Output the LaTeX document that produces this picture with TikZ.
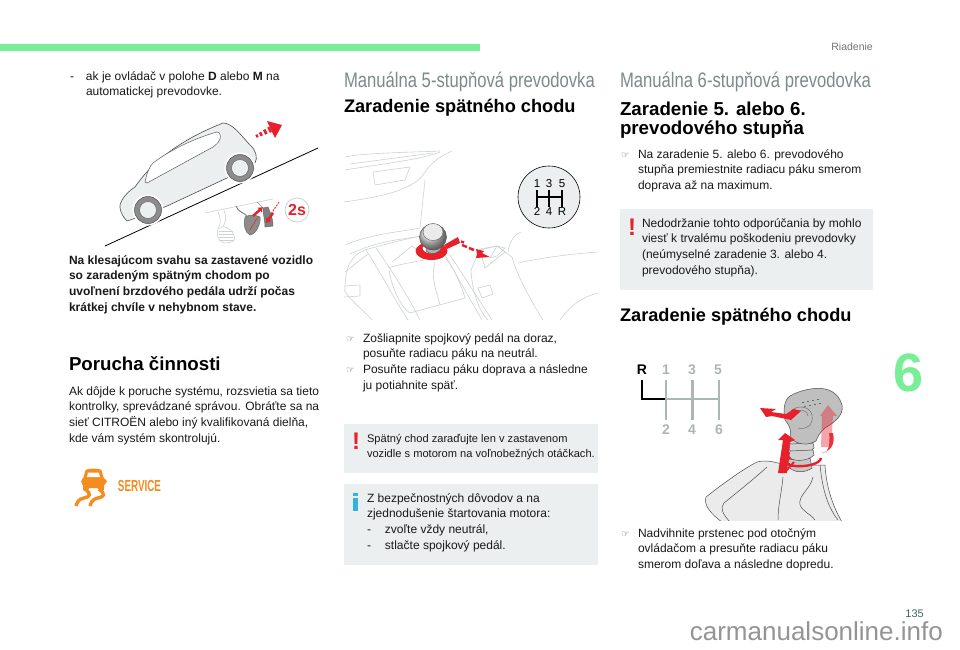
\documentclass[tikz,border=0pt]{standalone}
\usepackage{fontspec}
\usetikzlibrary{calc,arrows.meta}
\setmainfont{Liberation Sans}
\newfontfamily\symfont{DejaVu Sans}
\definecolor{band}{RGB}{120,238,150}
\definecolor{boxg}{RGB}{236,239,239}
\definecolor{headg}{RGB}{125,138,138}
\definecolor{redx}{RGB}{232,32,44}
\definecolor{linex}{RGB}{205,210,210}
\definecolor{bluei}{RGB}{50,180,225}
\definecolor{orangex}{RGB}{245,140,30}
\definecolor{gearg}{RGB}{172,182,178}
\tikzset{
  x=1pt,y=-1pt,
  body/.style={inner sep=0pt,outer sep=0pt,anchor=north west,align=left,font=\fontsize{12}{15.85}\selectfont,text=black!90},
  sub/.style={inner sep=0pt,outer sep=0pt,anchor=north west,align=left,font=\fontsize{18.7}{19}\selectfont\bfseries,text=black},
  subb/.style={sub,font=\fontsize{18.2}{19}\selectfont\bfseries},
  chap/.style={inner sep=0pt,outer sep=0pt,anchor=base west,text=headg,font=\fontsize{21}{22}\selectfont},
  warnbang/.style={inner sep=0pt,font=\fontsize{24}{24}\selectfont\bfseries,text=redx},
  sketch/.style={draw=linex,line width=.6pt},
  pic/.style={draw=black!70,line width=.5pt,fill=boxg},
  gearline/.style={gearg,line width=2.7pt},
  gearnum/.style={inner sep=0pt,font=\fontsize{14}{14}\selectfont\bfseries,text=gearg},
}
\newcommand{\fl}{\rule{0pt}{10pt}}
\newcommand{\hl}{\rule{0pt}{14pt}}
\newcommand{\handm}[1]{\makebox[#1pt][l]{\symfont\fontsize{9.5}{9.5}\selectfont\textcolor{black!65}{☞}}}
\begin{document}
\begin{tikzpicture}
\useasboundingbox (0,0) rectangle (960,649);
\fill[white] (0,0) rectangle (960,649);
% top band
\fill[band] (0,44) rectangle (480,50.5);
\node[inner sep=0pt,anchor=base east,font=\fontsize{10.5}{12}\selectfont,text=black!55] (runhead) at (873,50) {Riadenie};
\node[inner sep=0pt,anchor=base east,font=\fontsize{11}{12}\selectfont,text={rgb,255:red,70;green,100;blue,100}] (pageno) at (924,617) {135};
\node[inner sep=0pt,font=\fontsize{54}{54}\selectfont\bfseries,text=band] (chapno) at (909,372.5) {6};
% column 1
\node[body] (t1) at (70,70) {\fl\makebox[16pt][l]{-}ak je ovládač v polohe \textbf{D} alebo \textbf{M} na\\\hspace{16pt}automatickej prevodovke.};
% car scene
\draw[black,line width=.8pt] (105,246) -- (318,148);
\draw[pic,line width=.6pt] (127,221) .. controls (120,214) and (118,205) .. (122,200)
  .. controls (125,195) and (130,190) .. (135,187)
  .. controls (150,165) and (175,142) .. (223,123) .. controls (232,123) and (240,134) .. (250,145)
  .. controls (256,150) and (258,158) .. (255,163) -- (240,170) -- (227,178) -- (167,206) -- (148,214) -- cycle;
\draw[draw=black!65,fill=white,line width=.5pt] (145,182) .. controls (147,172) and (150,166) .. (153,163) .. controls (170,150) and (195,138) .. (217,132) .. controls (220,132) and (221,136) .. (220,139) .. controls (219,142) and (216,145) .. (213,147) -- (147,183) -- cycle;
\foreach \n/\cx/\cy in {wheela/148/210,wheelb/240/168}{
  \fill[white] (\cx,\cy) circle (15.5);
  \draw[black!70,fill=black!45,line width=.5pt] (\cx,\cy) circle (13.5);
  \draw[black!60,fill=boxg,line width=.5pt] (\cx,\cy) circle (8.5);
}
% red arrow car
\foreach \a/\b/\w in {0/.08/3,.15/.24/4,.32/.42/5,.5/.58/6}{
  \draw[redx,line width=\w pt] ($(256,136.5)!\a!(281,124)$) -- ($(256,136.5)!\b!(281,124)$);
}
\fill[redx] (267,121) -- (282,125) -- (275,138) -- (271,130) -- cycle;
% pedals
\draw[sketch] (205,213) -- (273,199);
\draw[draw=linex,line width=.6pt] (218,212) .. controls (221,218) and (221,224) .. (218,229);
\draw[draw=linex,line width=.6pt] (224,211) .. controls (227,218) and (226,222) .. (222,228);
\draw[draw=linex,fill=white,line width=.6pt] (218,229) .. controls (216,235) and (218,241) .. (224,243) .. controls (229,243) and (234,242) .. (235,239) .. controls (234,233) and (229,226) .. (222,227) -- cycle;
\foreach \yy in {231,234,237,240}{\draw[linex,line width=.5pt] (219,\yy) -- (233,\yy);}
\draw[black!55,line width=.8pt] (236,206) .. controls (238,212) and (243,212) .. (247,216);
\draw[draw=black!60,fill=black!45,line width=.5pt] (245,217) .. controls (250,214) and (256,215) .. (260,217) .. controls (261,224) and (256,234) .. (250,235) .. controls (245,233) and (243,224) .. (245,217) -- cycle;
\draw[black!45,line width=.7pt] (257,202) -- (262,207);
\draw[draw=black!60,fill=black!50,line width=.5pt] (263,208) -- (268,207) .. controls (270,212) and (273,218) .. (273,226) -- (265,227) .. controls (265,220) and (263,214) .. (263,208) -- cycle;
\draw[redx,line width=.9pt,dash pattern=on 1.5pt off 1pt] (250,230) -- (258,217);
\draw[redx,line width=2.4pt,-{Latex[length=4.5pt,width=7pt]}] (253,216) -- (263,207);
\draw[redx,line width=.9pt,dash pattern=on 2pt off 1pt] (279,202) -- (271,214);
\draw[redx,line width=2.4pt,-{Latex[length=4.5pt,width=7pt]}] (273,213) -- (266,223);
\draw[draw=linex,fill=white,line width=.8pt] (297,210) circle (12);
\node[inner sep=0pt,font=\fontsize{16}{16}\selectfont\bfseries,text=redx] (twos) at (297,210) {2s};
\node[body,font=\fontsize{12}{15.8}\selectfont\bfseries] (t2) at (69,254) {\fl Na klesajúcom svahu sa zastavené vozidlo\\so zaradeným spätným chodom po\\uvoľnení brzdového pedála udrží počas\\krátkej chvíle v nehybnom stave.};
\node[sub] (h1) at (69,356) {\hl Porucha činnosti};
\node[body] (t3) at (69,385) {\fl Ak dôjde k poruche systému, rozsvietia sa tieto\\kontrolky, sprevádzané správou. Obráťte sa na\\sieť CITROËN alebo iný kvalifikovaná dielňa,\\kde vám systém skontrolujú.};
% service icon
\fill[orangex,rounded corners=1.5pt] (83,479) -- (85,472) .. controls (86,468) and (101,468) .. (102,472) -- (104,479) -- (107,480) -- (107,483) -- (104,484) -- (104,491) -- (99,491) -- (99,488) -- (88,488) -- (88,491) -- (83,491) -- (83,484) -- (81,483) -- (81,480) -- cycle;
\fill[white] (87,477) -- (88,472.5) -- (99,472.5) -- (100,477) -- cycle;
\foreach \dx in {0,14}{
  \draw[orangex,line width=3.4pt,line cap=butt] (85+\dx,489) .. controls (92+\dx,494) and (90+\dx,497) .. (84+\dx,498) .. controls (78+\dx,499) and (77+\dx,503) .. (76+\dx,506);
}
\node[inner sep=0pt,font=\fontsize{16}{16}\selectfont\bfseries,text=orangex,xscale=.615] (service) at (139.5,486) {SERVICE};
% column 2
\node[chap] (c2h) at (344,87) {\scalebox{.793}[1]{Manuálna 5-stupňová prevodovka}};
\node[subb] (h2) at (344,98) {\hl Zaradenie spätného chodu};
% console sketch
\begin{scope}
\clip (344,150) rectangle (598,320);
\draw[sketch] (345,157) .. controls (360,153) and (420,152) .. (440,151);
\draw[sketch] (350,164) -- (433,153);
\draw[sketch] (345,170) .. controls (380,164) and (420,160) .. (440,152);
\draw[sketch] (373,172) -- (410,167) -- (405,180) -- (375,185) -- cycle;
\draw[sketch] (344,202) .. controls (380,197) and (415,190) .. (425,172) .. controls (430,165) and (436,158) .. (452,151);
\draw[sketch] (425,180) -- (420,227);
\draw[sketch] (345,245) .. controls (370,234) and (400,232) .. (420,228);
\draw[sketch] (350,254) .. controls (380,240) and (400,240) .. (420,236);
\draw[sketch] (345,290) .. controls (345,265) and (352,255) .. (365,250) .. controls (385,244) and (410,238) .. (422,236);
\draw[sketch] (366,250) .. controls (382,275) and (395,300) .. (408,320);
\draw[sketch] (376,248) .. controls (395,275) and (410,300) .. (420,320);
\draw[sketch] (345,272) -- (368,254);
\draw[sketch] (392,262) -- (412,246) -- (420,252);
\draw[sketch] (388,268) .. controls (400,264) and (415,262) .. (424,260);
\draw[sketch] (389,270) .. controls (392,290) and (402,308) .. (410,313) -- (465,298) .. controls (460,280) and (450,262) .. (445,258);
\draw[sketch] (435,262) .. controls (430,280) and (438,295) .. (440,305);
\draw[sketch] (445,255) -- (482,320);
\draw[sketch] (450,255) -- (492,320);
\draw[sketch] (344,290) .. controls (350,300) and (365,312) .. (372,320);
\draw[sketch] (344,286) -- (360,285) -- (360,296) -- (344,297);
\draw[sketch] (471,270) -- (480,249) -- (497,246) -- (512,257) .. controls (515,270) and (530,300) .. (543,320);
\draw[sketch] (471,270) .. controls (472,290) and (478,310) .. (488,320);
\draw[sketch] (480,250) -- (497,246) -- (505,252) -- (485,268) -- cycle;
\draw[sketch] (490,258) -- (497,246) -- (505,248) -- (497,256) -- cycle;
\draw[sketch] (478,288) -- (490,285) -- (493,294) -- (482,298) -- cycle;
\draw[sketch] (508,252) .. controls (510,240) and (515,234) .. (521,232);
\draw[sketch] (518,263) .. controls (540,258) and (570,254) .. (598,252);
\draw[sketch] (560,320) .. controls (570,305) and (585,296) .. (598,293);
\end{scope}
% red ring & arrow
\fill[redx,even odd rule] (431.5,251) ellipse (16 and 9) (431.5,248) ellipse (9 and 5.5);
\fill[redx] (444,245) -- (458,237) -- (460,243) -- (447,249) -- cycle;
\draw[redx,line width=2.4pt] (461,241.5) -- (464,242.5);
\draw[redx,line width=2.4pt] (462,245) -- (467,247);
\draw[redx,line width=2.6pt] (469,248) -- (474,250);
\fill[redx] (476,249) -- (484,251) -- (482,253) -- (490,257) -- (476,258) -- (477,254) -- cycle;
% knob
\draw[black!70,fill=black!30,line width=.5pt] (426,245) -- (426,251) .. controls (431,255) and (436,254) .. (439,251) -- (439,245) -- cycle;
\shade[ball color=black!14,draw=black!65,line width=.5pt] (433,237) ellipse (13.5 and 13);
\draw[black!65,fill=black!8,line width=.4pt] (433,232) ellipse (10 and 8.5);
% gear circle
\draw[draw=black,fill=boxg,line width=.6pt] (549,197) circle (31);
\draw[black,line width=1.3pt] (537,190) -- (537,207) (549,190) -- (549,207) (562,190) -- (562,207) (537,197) -- (562,197);
\foreach \n/\s/\cx/\cy in {ga/1/537/184,gb/3/549/184,gc/5/562/184,gd/2/537/211.5,ge/4/549/211.5,gf/R/562/211.5}{
  \node[inner sep=0pt,font=\fontsize{11.5}{11.5}\selectfont,text=black] (\n) at (\cx,\cy) {\s};
}
\node[body] (t4) at (346,332) {\fl\handm{17}Zošliapnite spojkový pedál na doraz,\\\hspace{17pt}posuňte radiacu páku na neutrál.\\\handm{17}Posuňte radiacu páku doprava a následne\\\hspace{17pt}ju potiahnite späť.};
\fill[boxg] (344,424) rectangle (598,473);
\node[warnbang] (b1) at (356,441.5) {!};
\node[body,font=\fontsize{11.1}{15.9}\selectfont] (t5) at (367,432) {\fl Spätný chod zaraďujte len v zastavenom\\vozidle s motorom na voľnobežných otáčkach.};
\fill[boxg] (344,484) rectangle (598,565);
\fill[bluei] (353,493) rectangle (358,496);
\fill[bluei] (353,498) rectangle (358,511);
\node[body] (t6) at (367,492) {\fl Z bezpečnostných dôvodov a na\\zjednodušenie štartovania motora:\\\makebox[18pt][l]{-}zvoľte vždy neutrál,\\\makebox[18pt][l]{-}stlačte spojkový pedál.};
% column 3
\node[chap] (c3h) at (620,87) {\scalebox{.793}[1]{Manuálna 6-stupňová prevodovka}};
\node[sub] (h3) at (620,101) {\hl Zaradenie 5. alebo 6.\\prevodového stupňa};
\node[body] (t7) at (621,148) {\fl\handm{17}Na zaradenie 5. alebo 6. prevodového\\\hspace{17pt}stupňa premiestnite radiacu páku smerom\\\hspace{17pt}doprava až na maximum.};
\fill[boxg] (620,209) rectangle (873,290);
\node[warnbang] (b2) at (632,227) {!};
\node[body] (t8) at (642,217) {\fl Nedodržanie tohto odporúčania by mohlo\\viesť k trvalému poškodeniu prevodovky\\(neúmyselné zaradenie 3. alebo 4.\\prevodového stupňa).};
\node[subb] (h4) at (620,307) {\hl Zaradenie spätného chodu};
% gear diagram
\draw[gearline] (666,380) -- (666,420);
\draw[gearline] (692.7,380) -- (692.7,420);
\draw[gearline] (719,380) -- (719,420);
\draw[gearline] (665,399) -- (720,399);
\draw[black,line width=2.7pt,line cap=butt] (642,380) -- (642,399) -- (665,399);
\node[inner sep=0pt,font=\fontsize{14}{14}\selectfont\bfseries,text=black] (gr) at (642,369.5) {R};
\node[gearnum] (g1) at (666,369.5) {1};
\node[gearnum] (g3) at (692,369.5) {3};
\node[gearnum] (g5) at (718,369.5) {5};
\node[gearnum] (g2) at (666,430) {2};
\node[gearnum] (g4) at (692,430) {4};
\node[gearnum] (g6) at (719,430) {6};
% gear boot
\begin{scope}
\clip (690,370) rectangle (850,520);
\draw[draw=black!70,fill=black!8,line width=.5pt] (722,522) .. controls (712,515) and (703,505) .. (706,497) .. controls (725,482) and (745,468) .. (757,462) .. controls (765,460) and (772,461) .. (785,465) -- (825,465) .. controls (826,485) and (832,505) .. (842,522) -- cycle;
\draw[black!70,line width=.5pt] (730,522) .. controls (722,513) and (720,508) .. (724,503) .. controls (740,490) and (755,478) .. (767,467);
\draw[black!70,line width=.5pt] (783,477) .. controls (782,490) and (778,505) .. (778,520);
\draw[black!70,line width=.5pt] (813,477) .. controls (810,490) and (798,495) .. (800,505) .. controls (803,512) and (812,515) .. (815,520);
\draw[black!70,line width=.5pt] (820,465) .. controls (822,485) and (826,505) .. (838,520);
\draw[black!70,fill=black!22,line width=.5pt] (790,468) -- (785,460) -- (810,458) -- (812,468) .. controls (805,473) and (795,473) .. (790,468) -- cycle;
\foreach \yy in {442,449,456}{
  \draw[black!70,fill=black!18,line width=.5pt] (789,\yy) .. controls (790,\yy+6) and (808,\yy+6) .. (814,\yy-1) -- (813,\yy-6) -- (790,\yy-5) -- cycle;
}
\draw[black!70,fill=black!25,line width=.5pt] (790,437) .. controls (792,428) and (788,424) .. (785,420) .. controls (783,410) and (784,400) .. (790,396) .. controls (800,390) and (815,387) .. (825,389) .. controls (835,391) and (840,398) .. (842,405) .. controls (844,415) and (835,422) .. (825,428) .. controls (820,432) and (818,436) .. (816,441) .. controls (808,446) and (796,445) .. (790,437) -- cycle;
\draw[black!55,line width=.5pt] (790,412) .. controls (795,405) and (810,405) .. (812,415) .. controls (814,425) and (806,430) .. (798,428);
\draw[black!55,line width=.5pt] (795,412) .. controls (800,409) and (808,410) .. (808,416);
\foreach \dx/\dy in {0/0,5/-1,10/-2,15/-3,2/4,7/3,12/2,17/1}{
  \fill[black!60] (802+\dx,402+\dy) rectangle +(2,1);
}
\end{scope}
% red arrows gear
\fill[redx] (760,408) -- (776,409) -- (771,412) -- (786,414) -- (794,409) -- (801,411) -- (791,420) -- (772,416) -- (766,417) -- cycle;
\fill[redx] (778,473) -- (783,440) -- (778,440) -- (785,433) -- (795,440) -- (790,442) -- (787,473) -- cycle;
\fill[redx,opacity=.4] (820,416) -- (828,405) -- (837,416) -- (833,416) -- (831,447) -- (821,447) -- (822,416) -- cycle;
\fill[redx,opacity=.9] (826,452) .. controls (830,448) and (830,438) .. (829,433) -- (833,433) .. controls (835,442) and (833,450) .. (822,453) -- cycle;
\draw[redx,line width=2.4pt] (790,457) .. controls (785,462) and (786,465) .. (795,466) .. controls (806,467) and (820,464) .. (821,458);
\draw[redx,line width=1.5pt] (787,462) -- (789,452);
\draw[redx,line width=2pt] (785,472) -- (794,462);
\node[body] (t9) at (621,527) {\fl\handm{17}Nadvihnite prstenec pod otočným\\\hspace{17pt}ovládačom a presuňte radiacu páku\\\hspace{17pt}smerom doľava a následne dopredu.};
% watermark
\node[inner sep=0pt,anchor=base east,font=\fontsize{26}{26}\selectfont,text=black!42] (wm) at (943,640) {carmanualsonline.info};
\end{tikzpicture}
\end{document}
